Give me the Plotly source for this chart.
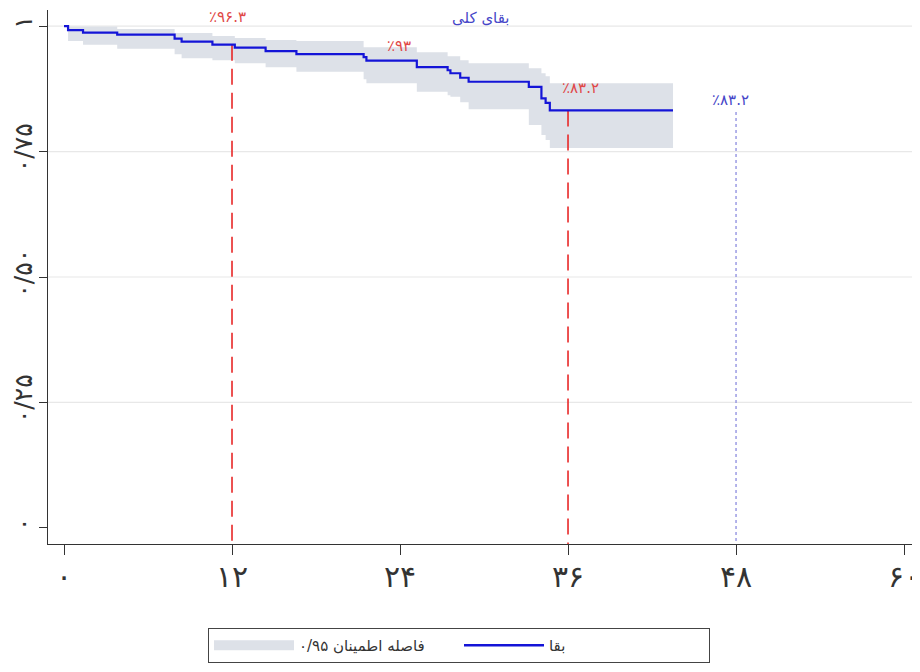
import plotly.graph_objects as go

# ---- data ----
TIME = [0, 0.29, 1.36, 3.8, 7.9, 8.4, 10.6, 12.2, 14.4, 16.6, 21.4, 21.6,
        25.2, 27.4, 27.6, 28.3, 28.9, 33.2, 34.1, 34.4, 34.7, 43.5]
SURV = [1.0, 0.992, 0.987, 0.983, 0.975, 0.969, 0.963, 0.957, 0.950, 0.944,
        0.938, 0.931, 0.918, 0.912, 0.906, 0.897, 0.889, 0.879, 0.856, 0.847,
        0.832, 0.832]
CI_TIME = TIME[1:]
UPPER = [0.999, 0.999, 0.994, 0.986, 0.986, 0.980, 0.976, 0.972, 0.970, 0.958,
         0.958, 0.948, 0.940, 0.940, 0.932, 0.926, 0.916, 0.906, 0.900, 0.886,
         0.886]
LOWER = [0.970, 0.963, 0.955, 0.944, 0.936, 0.932, 0.926, 0.918, 0.909, 0.894,
         0.886, 0.869, 0.862, 0.859, 0.848, 0.834, 0.803, 0.783, 0.773, 0.757,
         0.757]

X_TICKS = [0, 12, 24, 36, 48, 60]
X_TICK_LABELS = ["۰", "۱۲", "۲۴", "۳۶", "۴۸", "۶۰"]
Y_TICKS = [0, 0.25, 0.5, 0.75, 1.0]
Y_TICK_LABELS = ["۰", "۰/۲۵", "۰/۵۰", "۰/۷۵", "۱"]
GRID_Y = [0.25, 0.5, 0.75, 1.0]

# milestones: red dashed at 12 and 36, blue dotted at 48
MILESTONE_T = [12, 36]
MILESTONE_S = [0.963, 0.832]
DOT_T = 48
DOT_S = 0.829

LABELS = [
    ("٪۹۶.۳", 11.7, 1.018, "#e04848"),
    ("٪۹۳", 23.9, 0.960, "#e04848"),
    ("٪۸۳.۲", 36.9, 0.876, "#e04848"),
    ("٪۸۳.۲", 47.6, 0.853, "#4646c8"),
]
TITLE = "بقای کلی"
LEGEND_SURV = "بقا"
LEGEND_CI = "فاصله اطمینان ۰/۹۵"

X_RANGE = [-1.143, 61.14]
Y_RANGE = [-0.032, 1.032]

FONT = "DejaVu Sans"
BAND = "rgb(221,225,232)"
BLUE = "rgb(20,20,215)"

# figure sits inside the page body (8px default margin)
W, H = 912, 664
ML, MR, MT, MB = 40, 0, 2, 128
PLOT_H = H - MT - MB
PLOT_W = W - ML - MR

fig = go.Figure()

# CI band
fig.add_trace(go.Scatter(x=CI_TIME, y=LOWER, mode="lines", line=dict(width=0, shape="hv"),
                         hoverinfo="skip", showlegend=False))
fig.add_trace(go.Scatter(x=CI_TIME, y=UPPER, mode="lines", line=dict(width=0, shape="hv"),
                         fill="tonexty", fillcolor=BAND, hoverinfo="skip", showlegend=False))

# legend items
fig.add_trace(go.Scatter(x=[None], y=[None], mode="lines", name=LEGEND_CI,
                         line=dict(color=BAND, width=20)))
fig.add_trace(go.Scatter(x=[None], y=[None], mode="lines", name=LEGEND_SURV,
                         line=dict(color=BLUE, width=2.5)))

# milestone lines
for t, s in zip(MILESTONE_T, MILESTONE_S):
    fig.add_trace(go.Scatter(x=[t, t], y=[s, Y_RANGE[0]], mode="lines",
                             line=dict(color="rgb(232,40,40)", width=1.6, dash="16px,8px"),
                             showlegend=False, hoverinfo="skip"))
fig.add_trace(go.Scatter(x=[DOT_T, DOT_T], y=[DOT_S, Y_RANGE[0]], mode="lines",
                         line=dict(color="rgb(130,130,220)", width=1.2, dash="dot"),
                         showlegend=False, hoverinfo="skip"))

# survival curve
fig.add_trace(go.Scatter(x=TIME, y=SURV, mode="lines", line=dict(color=BLUE, width=2.2, shape="hv"),
                         showlegend=False))

shapes = [dict(type="line", xref="paper", x0=0, x1=1, yref="y", y0=g, y1=g,
               line=dict(color="rgb(232,232,232)", width=1.2), layer="below") for g in GRID_Y]

annotations = [dict(text=txt, x=x, y=y, xref="x", yref="y", showarrow=False,
                     xanchor="center", yanchor="middle",
                     font=dict(family=FONT, size=15, color=c)) for txt, x, y, c in LABELS]
annotations.append(dict(text=TITLE, x=(480 - 48) / PLOT_W, y=1 - 8 / PLOT_H,
                        xref="paper", yref="paper", showarrow=False,
                        xanchor="center", yanchor="middle",
                        font=dict(family=FONT, size=15, color="rgb(70,70,200)")))

fig.update_layout(
    width=W, height=H,
    margin=dict(l=ML, r=MR, t=MT, b=MB),
    paper_bgcolor="white", plot_bgcolor="white",
    font=dict(family=FONT, color="#222"),
    shapes=shapes,
    annotations=annotations,
    showlegend=True,
    legend=dict(orientation="h", x=(208 - 48) / PLOT_W, xanchor="left",
                y=-84 / PLOT_H, yanchor="top",
                bordercolor="#444", borderwidth=1, font=dict(size=15, family=FONT, color="#333"),
                itemwidth=80, entrywidth=155, traceorder="normal"),
    xaxis=dict(range=X_RANGE, tickvals=X_TICKS, ticktext=X_TICK_LABELS, showgrid=False,
               zeroline=False, showline=True, linecolor="#333", linewidth=1.2,
               ticks="outside", ticklen=10, tickcolor="#333", automargin=False,
               ticklabeloverflow="allow", ticklabelstandoff=-4,
               tickfont=dict(size=30, family=FONT, color="#333")),
    yaxis=dict(range=Y_RANGE, tickvals=Y_TICKS, ticktext=Y_TICK_LABELS, showgrid=False,
               zeroline=False, showline=True, linecolor="#333", linewidth=1.2,
               ticks="outside", ticklen=8, tickcolor="#333", tickangle=-90, automargin=False,
               ticklabeloverflow="allow", ticklabelstandoff=-3,
               tickfont=dict(size=25, family=FONT, color="#333")),
)

fig.write_html("out.html")
